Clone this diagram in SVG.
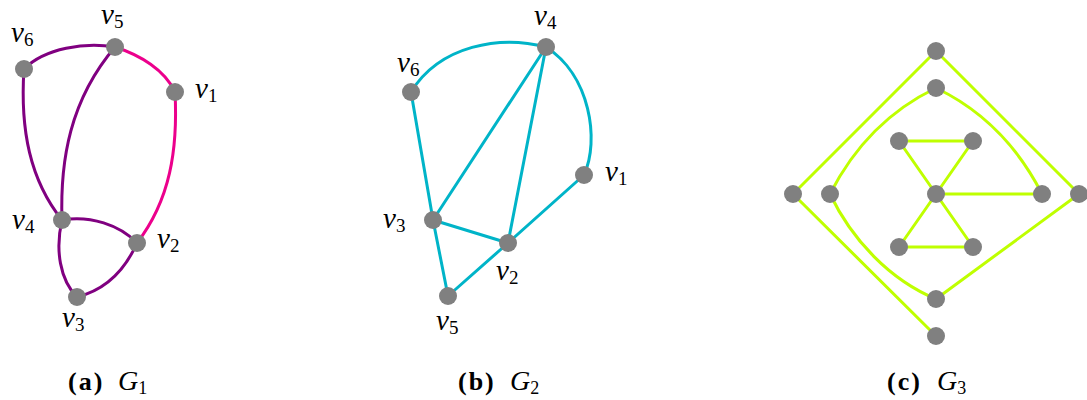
<svg xmlns="http://www.w3.org/2000/svg" width="1087" height="400" viewBox="0 0 1087 400">
<style>
.e{fill:none;stroke-width:3;stroke-linecap:round}
.p{stroke:#800080}.m{stroke:#ec008c}.c{stroke:#00b4c8}.l{stroke:#bfff00}
.n{fill:#808080}
.lb{font-family:"Liberation Serif",serif;font-style:italic;font-size:29px;fill:#000}
.sb{font-style:normal;font-size:19px}
.cap{font-family:"Liberation Serif",serif;font-size:26px;fill:#000}
.bf{font-weight:bold;letter-spacing:2px}
.it{font-style:italic;font-size:28px}
.cs{font-size:18px;font-style:normal}
</style>
<rect width="1087" height="400" fill="#fff"/>
<g id="connectors">
<path class="e p" d="M24,69 C45,48 85,42 115,47"/>
<path class="e m" d="M115,47 C140,55 165,70 175,92"/>
<path class="e m" d="M175,92 C178,150 170,200 137,243"/>
<path class="e p" d="M24,69 C20,130 30,180 62,220"/>
<path class="e p" d="M115,47 C70,100 60,160 62,220"/>
<path class="e p" d="M62,220 C90,215 120,225 137,243"/>
<path class="e p" d="M62,220 C55,250 60,280 77,297"/>
<path class="e p" d="M77,297 C105,290 125,270 137,243"/>
<path class="e c" d="M411,92 C440,45 500,35 546,47"/>
<path class="e c" d="M546,47 C590,75 600,140 584,175"/>
<path class="e c" d="M411,92 L433,220"/>
<path class="e c" d="M433,220 L546,47"/>
<path class="e c" d="M546,47 L508,243"/>
<path class="e c" d="M433,220 L508,243"/>
<path class="e c" d="M508,243 L584,175"/>
<path class="e c" d="M433,220 L448,296"/>
<path class="e c" d="M448,296 L508,243"/>
<path class="e l" d="M936,51 L793,194"/>
<path class="e l" d="M936,51 L1079,194"/>
<path class="e l" d="M793,194 L936,336"/>
<path class="e l" d="M1079,194 L936,299"/>
<path class="e l" d="M936,88 C890,110 855,145 830,194"/>
<path class="e l" d="M936,88 C982,110 1017,145 1042,194"/>
<path class="e l" d="M830,194 C852,240 890,280 936,299"/>
<path class="e l" d="M899,141 L973,141"/>
<path class="e l" d="M899,141 L936,194"/>
<path class="e l" d="M973,141 L936,194"/>
<path class="e l" d="M936,194 L899,247"/>
<path class="e l" d="M936,194 L973,247"/>
<path class="e l" d="M899,247 L973,247"/>
<path class="e l" d="M936,194 L1042,194"/>
</g>
<g id="g1-v1"><circle class="n" cx="175" cy="92" r="9"/><text class="lb" x="195" y="98">v<tspan class="sb" dy="4">1</tspan></text></g>
<g id="g1-v2"><circle class="n" cx="137" cy="243" r="9"/><text class="lb" x="157" y="248">v<tspan class="sb" dy="4">2</tspan></text></g>
<g id="g1-v3"><circle class="n" cx="77" cy="297" r="9"/><text class="lb" x="62" y="327">v<tspan class="sb" dy="4">3</tspan></text></g>
<g id="g1-v4"><circle class="n" cx="62" cy="220" r="9"/><text class="lb" x="12" y="229">v<tspan class="sb" dy="4">4</tspan></text></g>
<g id="g1-v5"><circle class="n" cx="115" cy="47" r="9"/><text class="lb" x="101" y="24">v<tspan class="sb" dy="4">5</tspan></text></g>
<g id="g1-v6"><circle class="n" cx="24" cy="69" r="9"/><text class="lb" x="11" y="42">v<tspan class="sb" dy="4">6</tspan></text></g>
<g id="g2-v1"><circle class="n" cx="584" cy="175" r="9"/><text class="lb" x="605" y="181">v<tspan class="sb" dy="4">1</tspan></text></g>
<g id="g2-v2"><circle class="n" cx="508" cy="243" r="9"/><text class="lb" x="496" y="280">v<tspan class="sb" dy="4">2</tspan></text></g>
<g id="g2-v3"><circle class="n" cx="433" cy="220" r="9"/><text class="lb" x="383" y="228">v<tspan class="sb" dy="4">3</tspan></text></g>
<g id="g2-v4"><circle class="n" cx="546" cy="47" r="9"/><text class="lb" x="534" y="25">v<tspan class="sb" dy="4">4</tspan></text></g>
<g id="g2-v5"><circle class="n" cx="448" cy="296" r="9"/><text class="lb" x="436" y="330">v<tspan class="sb" dy="4">5</tspan></text></g>
<g id="g2-v6"><circle class="n" cx="411" cy="92" r="9"/><text class="lb" x="397" y="72">v<tspan class="sb" dy="4">6</tspan></text></g>
<g id="g3-top"><circle class="n" cx="936" cy="51" r="9"/></g>
<g id="g3-top2"><circle class="n" cx="936" cy="88" r="9"/></g>
<g id="g3-lo"><circle class="n" cx="793" cy="194" r="9"/></g>
<g id="g3-li"><circle class="n" cx="830" cy="194" r="9"/></g>
<g id="g3-c"><circle class="n" cx="936" cy="194" r="9"/></g>
<g id="g3-ri"><circle class="n" cx="1042" cy="194" r="9"/></g>
<g id="g3-ro"><circle class="n" cx="1079" cy="194" r="9"/></g>
<g id="g3-ul"><circle class="n" cx="899" cy="141" r="9"/></g>
<g id="g3-ur"><circle class="n" cx="973" cy="141" r="9"/></g>
<g id="g3-ll"><circle class="n" cx="899" cy="247" r="9"/></g>
<g id="g3-lr"><circle class="n" cx="973" cy="247" r="9"/></g>
<g id="g3-bot2"><circle class="n" cx="936" cy="299" r="9"/></g>
<g id="g3-bot"><circle class="n" cx="936" cy="336" r="9"/></g>
<g id="captions">
<text class="cap bf" x="68" y="390">(a)</text><text class="cap it" x="118" y="390">G<tspan class="cs" dy="4">1</tspan></text>
<text class="cap bf" x="458" y="390">(b)</text><text class="cap it" x="510" y="390">G<tspan class="cs" dy="4">2</tspan></text>
<text class="cap bf" x="887" y="390">(c)</text><text class="cap it" x="937" y="390">G<tspan class="cs" dy="4">3</tspan></text>
</g>
</svg>
